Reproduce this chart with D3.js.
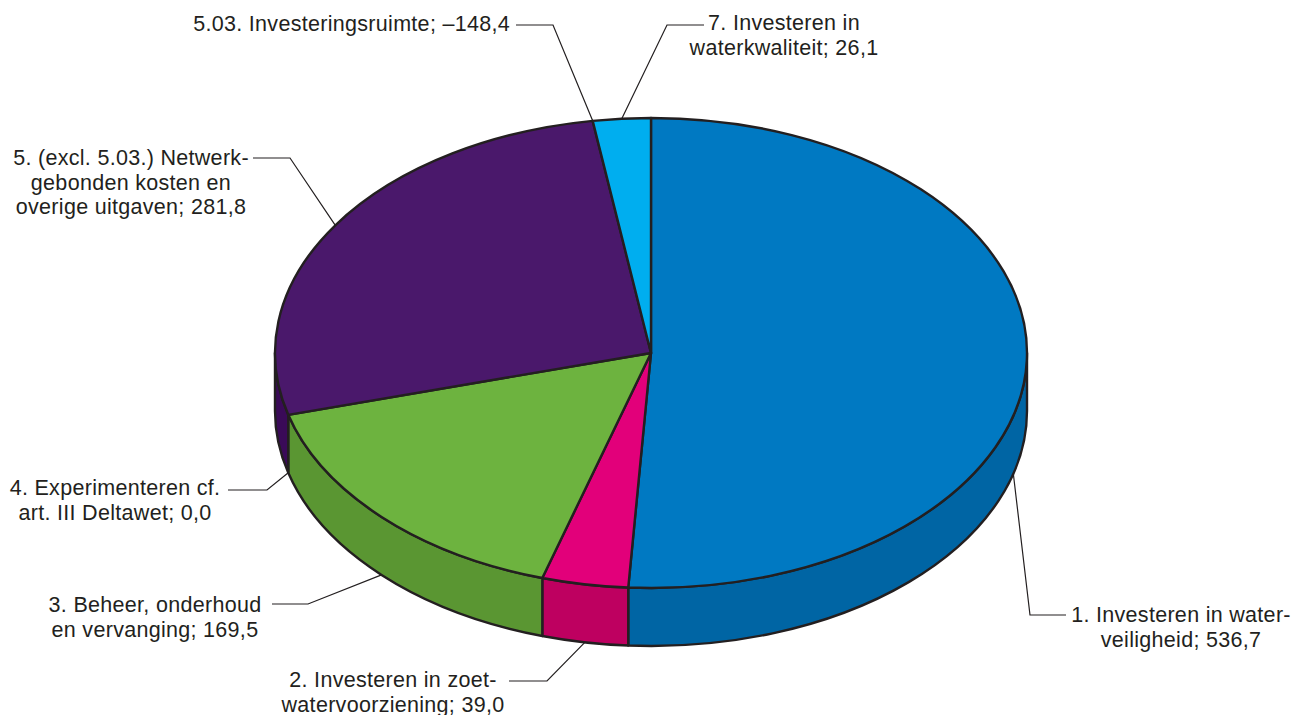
<!DOCTYPE html>
<html lang="nl">
<head>
  <meta charset="UTF-8">
  <title>Uitgaven per artikel</title>
  <script src="https://d3js.org/d3.v7.min.js"></script>
  <style>
    body {
      margin: 0;
      background: #fff;
    }
    svg {
      display: block;
    }
    .label {
      font-family: "Liberation Sans", Arial, sans-serif;
      font-size: 21.5px;
      letter-spacing: 0.3px;
      fill: #231f20;
    }
    .leader {
      fill: none;
      stroke: #231f20;
      stroke-width: 1.2;
    }
  </style>
</head>
<body>
  <svg id="chart"></svg>

  <script>
    // data (order = order around the pie, clockwise from 12 o'clock)
    const categories = ["1", "2", "3", "4", "5", "5.03", "7"];
    const values = [536.7, 39.0, 169.5, 0.0, 281.8, -148.4, 26.1];
    const labelLines = [
      ["1. Investeren in water-", "veiligheid; "],
      ["2. Investeren in zoet-", "watervoorziening; "],
      ["3. Beheer, onderhoud", "en vervanging; "],
      ["4. Experimenteren cf.", "art. III Deltawet; "],
      ["5. (excl. 5.03.) Netwerk-", "gebonden kosten en", "overige uitgaven; "],
      ["5.03. Investeringsruimte; "],
      ["7. Investeren in", "waterkwaliteit; "]
    ];
    const topColors = ["#0079c2", "#e2007a", "#6db33f", "#6db33f", "#4a186b", "#4a186b", "#00aeef"];
    const sideColors = ["#0065a4", "#be0060", "#5a9632", "#5a9632", "#3a0a58", "#3a0a58", "#0090c8"];

    const width = 1295, height = 715;
    const cx = 651, cy = 353, rx = 376, ry = 235, depth = 58;

    // label placement: text anchor x, first baseline, elbow + end of leader, anchor fraction in slice, rim
    const labelLayout = [
      { tx: 1181, ty: 622, anchor: "middle", ex: 1030, ey: 615, lx: 1066, frac: 0.575, rim: "bottom" },
      { tx: 393, ty: 687, anchor: "middle", ex: 547, ey: 681, lx: 509, frac: 0.5, rim: "bottom" },
      { tx: 155, ty: 612, anchor: "middle", ex: 308, ey: 604, lx: 272, frac: 0.5, rim: "bottom" },
      { tx: 115, ty: 495, anchor: "middle", ex: 267, ey: 490, lx: 228, frac: 0.5, rim: "bottom" },
      { tx: 131, ty: 165, anchor: "middle", ex: 290, ey: 158, lx: 253, frac: 0.5, rim: "top" },
      { tx: 510, ty: 31, anchor: "end", ex: 553, ey: 25, lx: 516, frac: 0.5, rim: "top" },
      { tx: 784, ty: 30, anchor: "middle", ex: 667, ey: 25, lx: 704, frac: 0.5, rim: "top" }
    ];
    const lineHeight = 24.5;

    const fmt = v => d3.format(".1f")(v).replace(".", ",").replace("\u2212", "\u2013").replace("-", "\u2013");

    const svg = d3.select("#chart")
      .attr("width", width)
      .attr("height", height);

    const pie = d3.pie()
      .sort(null)
      .value(d => Math.max(0, d));

    const arcs = pie(values);

    // point on the ellipse rim (angle 0 = top, clockwise)
    function rimPoint(a, dy) {
      return [cx + rx * Math.sin(a), cy - ry * Math.cos(a) + (dy || 0)];
    }

    // side walls (only the front half is visible)
    function sidePath(d) {
      const s0 = Math.max(d.startAngle, Math.PI / 2);
      const s1 = Math.min(d.endAngle, Math.PI * 3 / 2);
      if (s1 <= s0) return null;
      const p0 = rimPoint(s0), p1 = rimPoint(s1);
      const q1 = rimPoint(s1, depth), q0 = rimPoint(s0, depth);
      return `M${p0}A${rx},${ry} 0 0 1 ${p1}L${q1}A${rx},${ry} 0 0 0 ${q0}Z`;
    }

    const sides = arcs.map((d, i) => ({ d, i, path: sidePath(d) })).filter(s => s.path);

    svg.append("g")
      .selectAll("path")
      .data(sides)
      .join("path")
      .attr("d", s => s.path)
      .attr("fill", s => sideColors[s.i])
      .attr("stroke", "#231f20")
      .attr("stroke-width", 2.4)
      .attr("stroke-linejoin", "round");

    // top face: circular d3.arc squashed into an ellipse
    const arc = d3.arc()
      .innerRadius(0)
      .outerRadius(rx);

    svg.append("g")
      .attr("transform", `translate(${cx},${cy}) scale(1,${ry / rx})`)
      .selectAll("path")
      .data(arcs.filter(d => d.endAngle > d.startAngle))
      .join("path")
      .attr("d", arc)
      .attr("fill", d => topColors[d.index])
      .attr("stroke", "#231f20")
      .attr("stroke-width", 2.4)
      .attr("stroke-linejoin", "round")
      .attr("vector-effect", "non-scaling-stroke");

    // leader lines
    svg.append("g")
      .selectAll("path")
      .data(arcs)
      .join("path")
      .attr("class", "leader")
      .attr("d", (d, i) => {
        const L = labelLayout[i];
        const a = d.startAngle + (d.endAngle - d.startAngle) * L.frac;
        const p = rimPoint(a, L.rim === "bottom" ? depth : 0);
        return d3.line()([p, [L.ex, L.ey], [L.lx, L.ey]]);
      });

    // labels
    const labels = svg.append("g")
      .selectAll("text")
      .data(categories)
      .join("text")
      .attr("class", "label")
      .attr("text-anchor", (c, i) => labelLayout[i].anchor)
      .attr("x", (c, i) => labelLayout[i].tx)
      .attr("y", (c, i) => labelLayout[i].ty);

    labels.each(function(c, i) {
      const lines = labelLines[i].slice();
      lines[lines.length - 1] += fmt(values[i]);
      d3.select(this).selectAll("tspan")
        .data(lines)
        .join("tspan")
        .attr("x", labelLayout[i].tx)
        .attr("dy", (t, j) => j === 0 ? 0 : lineHeight)
        .text(t => t);
    });
  </script>
</body>
</html>
